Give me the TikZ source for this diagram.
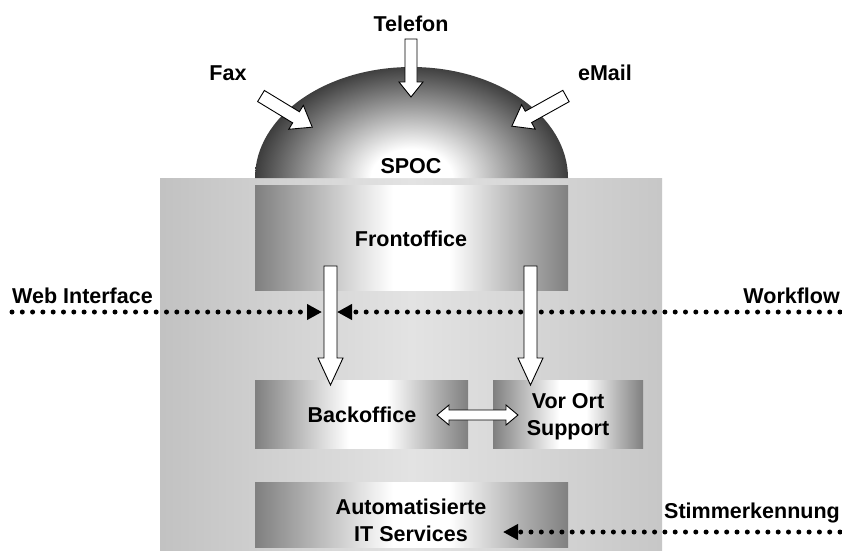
\documentclass[tikz,border=0pt]{standalone}
\usepackage{fontspec}
\setmainfont{Liberation Sans}
\usetikzlibrary{arrows.meta}
\pgfdeclarehorizontalshading{boxshade}{100bp}{color(0bp)=(black!50); color(25bp)=(black!50); color(47bp)=(white); color(56bp)=(white); color(67bp)=(black!30); color(75bp)=(black!50); color(100bp)=(black!50)}
\pgfdeclarehorizontalshading{bgshade}{100bp}{color(0bp)=(black!24); color(25bp)=(black!24); color(50bp)=(black!11); color(75bp)=(black!22); color(100bp)=(black!22)}
\pgfdeclareradialshading{domeshade}{\pgfpoint{0bp}{0bp}}{color(0bp)=(white); color(6bp)=(white); color(25bp)=(black!85); color(50bp)=(black!85)}
\newcommand\blkarrow[6]{%
  \draw[arrowbox, shift={#1}, rotate=#2] (0,-#4) -- ({#3-#6},-#4) -- ({#3-#6},-#5) -- (#3,0) -- ({#3-#6},#5) -- ({#3-#6},#4) -- (0,#4) -- cycle;}
\begin{document}
\begin{tikzpicture}[x=1pt,y=-1pt,
  lbl/.style={font=\fontsize{21.5}{27}\selectfont\bfseries, inner sep=0pt, anchor=base, align=center},
  boxarea/.style={shading=boxshade, draw=none},
  arrowbox/.style={draw=black, fill=white, line width=0.9pt, line join=miter},
  dotline/.style={line width=5pt, line cap=round, dash pattern=on 0pt off 10.3pt, -{Triangle[length=15pt,width=15pt]}}]
\useasboundingbox (0,0) rectangle (842,550);
\fill[white] (0,0) rectangle (842,550);
% background block
\shade[shading=bgshade] (160,178) rectangle (662,550);
% dome
\begin{scope}
  \clip (255,178) arc[start angle=180, end angle=360, x radius=156.5, y radius=111] -- cycle;
  \shade[shading=domeshade] (411.5,178) ellipse (170 and 122);
\end{scope}
% boxes
\shade[boxarea] (255,185) rectangle (568,290);
\shade[boxarea] (255,380) rectangle (468,448);
\shade[boxarea] (493,380) rectangle (643,448);
\shade[boxarea] (255,482) rectangle (568,547);
% coordinates for dotted connectors
\coordinate (wiS) at (12,312);
\coordinate (wiE) at (322,312);
\coordinate (wfS) at (840,312);
\coordinate (wfE) at (337,312);
\coordinate (stS) at (840,532);
\coordinate (stE) at (503,532);
\draw[dotline] (wiS) -- (wiE);
\draw[dotline] (wfS) -- (wfE);
\draw[dotline] (stS) -- (stE);
% block arrows
\blkarrow{(261,96)}{-31.3}{60}{6.5}{14}{19}
\blkarrow{(566,96)}{-150.9}{62}{6.5}{14}{19}
\blkarrow{(411,39)}{-90}{58}{6}{12}{15}
\blkarrow{(330.5,266)}{-90}{119}{6.5}{12.5}{27}
\blkarrow{(530.5,266)}{-90}{119}{6.5}{12.5}{27}
\draw[arrowbox] (437,415) -- (449,405) -- (449,410) -- (506,410) -- (506,405) -- (518,415) -- (506,425) -- (506,420) -- (449,420) -- (449,425) -- cycle;
% labels
\node[lbl] (tel) at (411,31) {Telefon};
\node[lbl] (fax) at (228,80) {Fax};
\node[lbl] (mail) at (605,80) {eMail};
\node[lbl] (spoc) at (411,173) {SPOC};
\node[lbl] (front) at (411,246) {Frontoffice};
\node[lbl] (back) at (362,422) {Backoffice};
\node[lbl] (vor) at (568,435) {Vor Ort\\Support};
\node[lbl] (auto) at (411,541) {Automatisierte\\IT Services};
\node[lbl, anchor=base west] (web) at (12,303) {Web Interface};
\node[lbl, anchor=base east] (wf) at (840,303) {Workflow};
\node[lbl, anchor=base east] (stim) at (840,518) {Stimmerkennung};
\end{tikzpicture}
\end{document}
